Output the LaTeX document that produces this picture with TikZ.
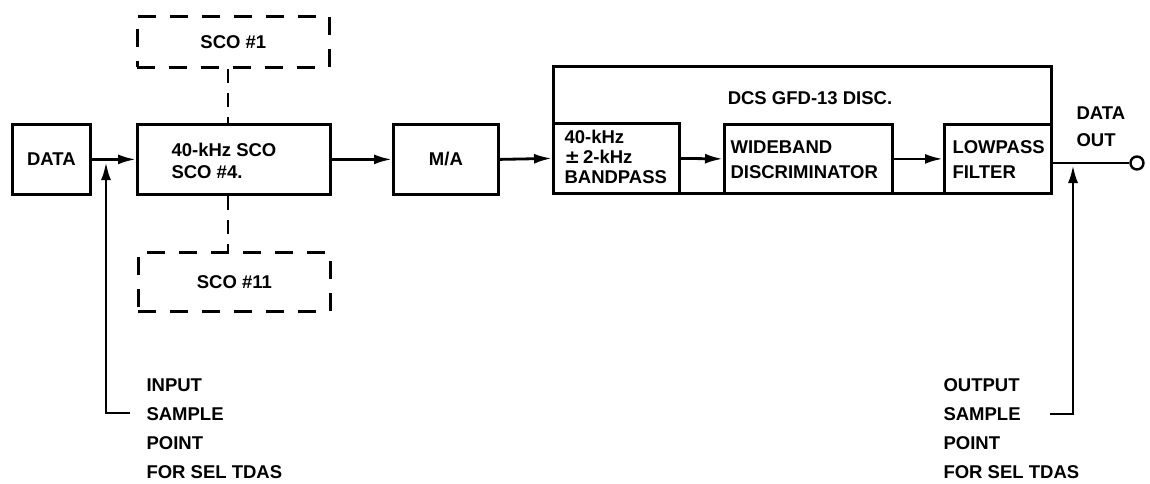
\documentclass[tikz,border=0pt]{standalone}
\usepackage{fontspec}
\setmainfont{Liberation Sans}
\usetikzlibrary{arrows.meta}
\begin{document}
\begin{tikzpicture}[x=1pt,y=-1pt,
  lbl/.style={font=\bfseries\fontsize{18.5}{25}\selectfont},
  blk/.style={draw,line width=2.8pt,lbl,inner sep=0pt,anchor=north west},
  dblk/.style={draw,line width=2.8pt,dash pattern=on 18pt off 14pt,lbl,inner sep=0pt,anchor=north west},
  conn/.style={line width=2.8pt},
  arr/.style={line width=2.8pt,-{Latex[length=18pt,width=10pt]}},
  dconn/.style={line width=2.8pt,dash pattern=on 14pt off 10pt}]
\useasboundingbox (0,0) rectangle (1150,484);
% boxes
\node[blk,minimum width=78pt,minimum height=70pt] (data) at (11,123) {DATA};
\node[blk,minimum width=193pt,minimum height=70pt] (sco4) at (136,123) {};
\node[lbl,anchor=west,align=left,font=\bfseries\fontsize{18.5}{22}\selectfont] (sco4t) at (168,161) {40-kHz SCO\\SCO \#4.};
\node[dblk,minimum width=192pt,minimum height=51pt] (sco1) at (136,15) {SCO \#1};
\node[dblk,minimum width=192pt,minimum height=59pt] (sco11) at (137,251) {SCO \#11};
\node[blk,minimum width=105pt,minimum height=70pt] (ma) at (392,123) {M/A};
\node[blk,minimum width=498pt,minimum height=127pt] (dcs) at (552,65) {};
\node[lbl] (dcst) at (810,98) {DCS GFD-13 DISC.};
\node[blk,minimum width=126pt,minimum height=70pt] (bp) at (552,122) {};
\node[lbl,anchor=west,align=left,font=\bfseries\fontsize{18.5}{20}\selectfont] (bpt) at (561,157) {40-kHz\\\fontspec{DejaVu Sans}\bfseries ±\,\fontspec{Liberation Sans}\bfseries2-kHz\\BANDPASS};
\node[blk,minimum width=168pt,minimum height=69pt] (wb) at (723,123) {};
\node[lbl,anchor=west,align=left] (wbt) at (727,160) {WIDEBAND\\DISCRIMINATOR};
\node[blk,minimum width=107pt,minimum height=69pt] (lp) at (943,123) {};
\node[lbl,anchor=west,align=left] (lpt) at (949,160) {LOWPASS\\FILTER};
\node[lbl,anchor=west,align=left,font=\bfseries\fontsize{18.5}{27}\selectfont] (dout) at (1073,127) {DATA\\OUT};
\node[draw,circle,line width=2.4pt,minimum size=13pt,inner sep=0pt] (out) at (1137,163) {};
% connectors
\draw[arr] (data.east) -- (sco4.west);
\draw[arr] (sco4.east) -- (ma.west);
\draw[arr] (ma.east) -- (bp.west);
\draw[arr] (bp.east) -- (wb.west);
\draw[arr] (wb.east) -- (lp.west);
\draw[conn] (lp.east |- out) -- (out.west);
\draw[dconn] (sco1.south -| 228,0) -- (sco4.north -| 228,0);
\draw[dconn] (sco4.south -| 228,0) -- (sco11.north -| 228,0);
% sample points
\coordinate (inS) at (130,413);
\coordinate (inT) at (106,162);
\draw[arr] (inS) -| (inT);
\node[lbl,anchor=west,align=left,font=\bfseries\fontsize{18.5}{29}\selectfont] (intext) at (143,429) {INPUT\\SAMPLE\\POINT\\FOR SEL TDAS};
\coordinate (outS) at (1050,414);
\coordinate (outT) at (1073,165);
\draw[arr] (outS) -| (outT);
\node[lbl,anchor=west,align=left,font=\bfseries\fontsize{18.5}{29}\selectfont] (outtext) at (940,429) {OUTPUT\\SAMPLE\\POINT\\FOR SEL TDAS};
\end{tikzpicture}
\end{document}
